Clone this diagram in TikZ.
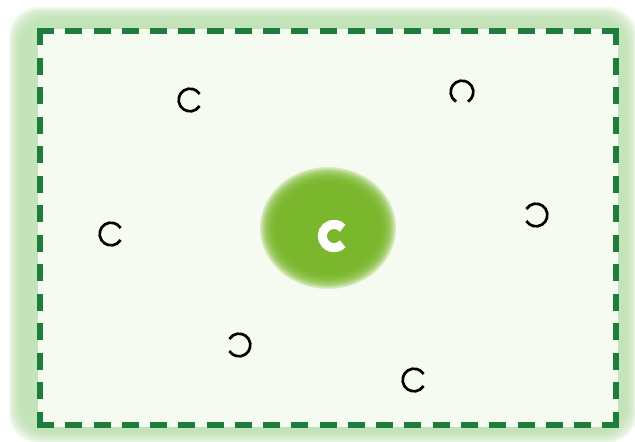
\documentclass[tikz,border=0pt]{standalone}
\usepackage{xcolor}
\usepackage{tikz}
\usetikzlibrary{calc}

\definecolor{bandgreen}{RGB}{188,225,176}
\definecolor{innergreen}{RGB}{245,251,241}
\definecolor{dashgreen}{RGB}{30,124,60}
\definecolor{blobgreen}{RGB}{118,182,36}

\tikzset{
  hdash/.style={draw=dashgreen, line width=0.2cm, dash pattern=on 0.51cm off 0.338cm},
  vdash/.style={draw=dashgreen, line width=0.2cm, dash pattern=on 0.51cm off 0.375cm},
  ring/.style={draw=black, line width=2.3pt},
  bigring/.style={draw=white, line width=0.27cm}
}

\begin{document}
\begin{tikzpicture}[x=0.03cm, y=-0.03cm]

\useasboundingbox (0,0) rectangle (635,442);
\fill[white] (0,0) rectangle (635,442);

% ── Soft outer band ───────────────────────────────────────────────
\foreach \k in {0,...,7} {
    \fill[bandgreen, opacity=0.22, rounded corners=0.9cm]
        (9+1.6*\k, 7+1.6*\k) rectangle (637-1.6*\k, 443-1.6*\k);
}

% ── Inner field ──────────────────────────────────────────────────
\fill[innergreen] (38,29) rectangle (618,427);

% ── Dashed frame (each side starts on a corner) ──────────────────
\coordinate (TL) at (40,31);
\coordinate (TR) at (616,31);
\coordinate (BL) at (40,425);
\coordinate (BR) at (616,425);
\draw[hdash] ($(TL)+(-3,0)$) -- ($(TR)+(3,0)$);
\draw[hdash] ($(BL)+(-3,0)$) -- ($(BR)+(3,0)$);
\draw[vdash] ($(TL)+(0,-3)$) -- ($(BL)+(0,3)$);
\draw[vdash] ($(TR)+(0,-3)$) -- ($(BR)+(0,3)$);

% ── Central blob ─────────────────────────────────────────────────
\coordinate (B) at (328,228);
\foreach \k in {0,...,11} {
    \fill[blobgreen, opacity=0.22] (B) ellipse
        [x radius={(68-1.4*\k)*0.03cm}, y radius={(61-1.4*\k)*0.03cm}];
}
\coordinate (C0) at (334,236);
\draw[bigring] (C0) ++(42:0.35cm) arc[start angle=42, end angle=318, radius=0.35cm];

% ── Open rings (gap direction in degrees) ────────────────────────
\foreach \i/\px/\py/\dir in {1/190/100/0, 2/462/92/270, 3/536/215/180,
                             4/111/234/0, 5/239/345/180, 6/414/380/0} {
    \coordinate (R\i) at (\px,\py);
    \draw[ring] (R\i) ++(\dir+32:0.34cm)
        arc[start angle=\dir+32, end angle=\dir+328, radius=0.34cm];
}

\end{tikzpicture}
\end{document}
